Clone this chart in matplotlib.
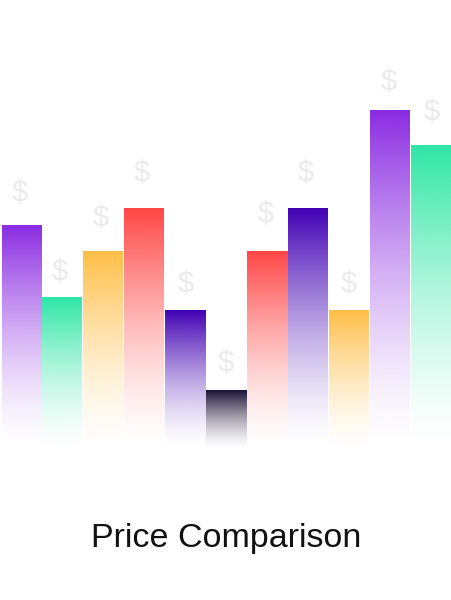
import numpy as np
import matplotlib
matplotlib.use("Agg")
import matplotlib.pyplot as plt
from matplotlib.colors import to_rgb

# bar values (relative price, tallest = 100)
labels = ["A", "B", "C", "D", "E", "F", "G", "H", "I", "J", "K"]
values = [66, 45, 58.5, 71, 41, 17.5, 58.5, 71, 41, 100, 89.5]
colors = ["#8a2be2", "#2ee6a6", "#ffbe45", "#ff4545", "#4000b3", "#1a1033",
          "#ff4545", "#4000b3", "#ffbe45", "#8a2be2", "#2ee6a6"]

# floating "$" marks: offset above bar top (px) and small x shift (px)
dollar_lift = [33, 25, 34, 36, 27, 28, 38, 36, 27, 28, 34]
dollar_shift = [-2, -3, -3, -3, 0, -1, -2, -3, -1, -2, 0]

W, H, DPI = 452, 600, 100
fig = plt.figure(figsize=(W / DPI, H / DPI), dpi=DPI)
fig.patch.set_facecolor("white")

base_px = 450
ax = fig.add_axes([1 / W, (H - base_px) / H, (W - 1) / W, base_px / H])
ymax = 100 * base_px / 340
ax.set_xlim(-0.5, len(values) - 0.5)
ax.set_ylim(0, ymax)
ax.axis("off")

px_y = ymax / base_px   # data units per pixel (vertical)
px_x = 1 / 41           # data units per pixel (horizontal)
bw = 40 / 41

n = 256
t = np.linspace(0, 1, n)[:, None]   # 0 at top, 1 at bottom
alpha = (1 - t) ** 1.5

for i, (v, c) in enumerate(zip(values, colors)):
    rgba = np.zeros((n, 1, 4))
    rgba[..., :3] = to_rgb(c)
    rgba[..., 3] = alpha
    ax.imshow(rgba, extent=[i - bw / 2, i + bw / 2, 0, v], aspect="auto",
              interpolation="bilinear", zorder=2)
    ax.text(i + dollar_shift[i] * px_x, v + dollar_lift[i] * px_y, "$",
            ha="center", va="center", fontsize=21, color="#ebebeb",
            family="Liberation Sans", zorder=3)

ax.set_xlim(-0.5, len(values) - 0.5)
ax.set_ylim(0, ymax)

fig.text(226 / W, 1 - 538 / H, "Price Comparison", ha="center", va="center",
         fontsize=24.5, color="#111111", family="Liberation Sans")

fig.savefig("out.png", dpi=DPI, facecolor="white")
